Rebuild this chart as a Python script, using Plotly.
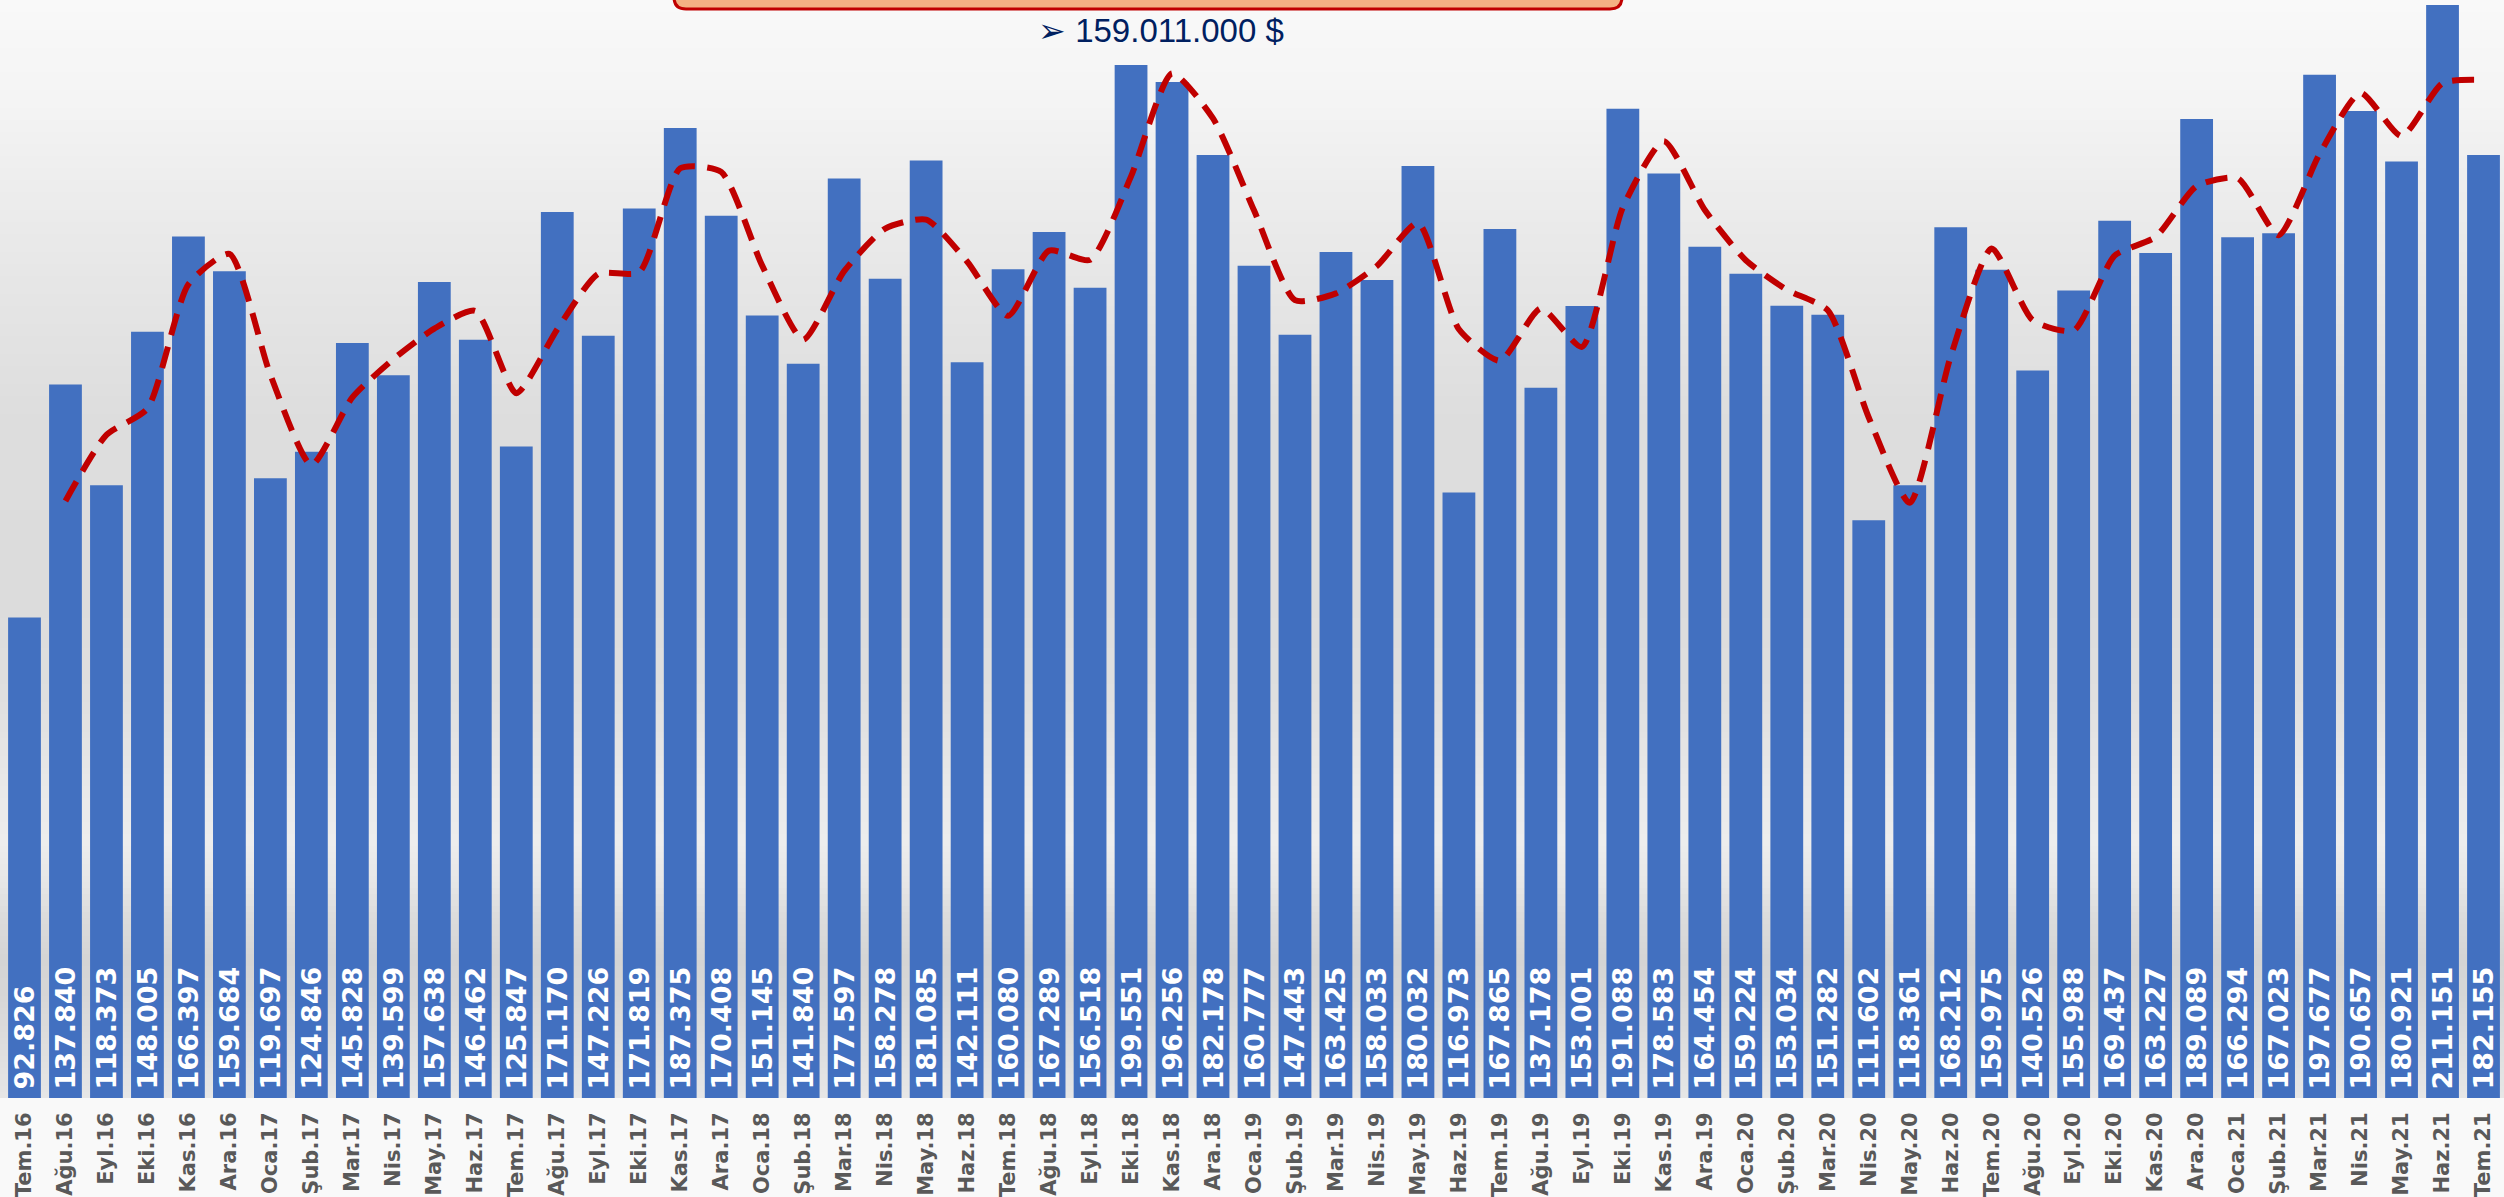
import plotly.graph_objects as go
import pandas as pd

# ---- data ----
months = ["Tem.16", "Ağu.16", "Eyl.16", "Eki.16", "Kas.16", "Ara.16",
          "Oca.17", "Şub.17", "Mar.17", "Nis.17", "May.17", "Haz.17",
          "Tem.17", "Ağu.17", "Eyl.17", "Eki.17", "Kas.17", "Ara.17",
          "Oca.18", "Şub.18", "Mar.18", "Nis.18", "May.18", "Haz.18",
          "Tem.18", "Ağu.18", "Eyl.18", "Eki.18", "Kas.18", "Ara.18",
          "Oca.19", "Şub.19", "Mar.19", "Nis.19", "May.19", "Haz.19",
          "Tem.19", "Ağu.19", "Eyl.19", "Eki.19", "Kas.19", "Ara.19",
          "Oca.20", "Şub.20", "Mar.20", "Nis.20", "May.20", "Haz.20",
          "Tem.20", "Ağu.20", "Eyl.20", "Eki.20", "Kas.20", "Ara.20",
          "Oca.21", "Şub.21", "Mar.21", "Nis.21", "May.21", "Haz.21",
          "Tem.21"]
values = [92826, 137840, 118373, 148005, 166397, 159684,
          119697, 124846, 145828, 139599, 157638, 146462,
          125847, 171170, 147226, 171819, 187375, 170408,
          151145, 141840, 177597, 158278, 181085, 142111,
          160080, 167289, 156518, 199551, 196256, 182178,
          160777, 147443, 163425, 158033, 180032, 116973,
          167865, 137178, 153001, 191088, 178583, 164454,
          159224, 153034, 151282, 111602, 118361, 168212,
          159975, 140526, 155988, 169437, 163227, 189089,
          166294, 167023, 197677, 190657, 180921, 211151,
          182155]
headline = "159.011.000 $"
ma_period = 2  # Excel-style moving-average trendline

labels = [f"{v:,}".replace(",", ".") for v in values]
trend = pd.Series(values, dtype=float).rolling(ma_period).mean()

# ---- geometry helpers (pixel -> paper) ----
W, H = 2504, 1197
ML, MR, MT, MB = 4, 0, 0, 99
PW, PH = W - ML - MR, H - MT - MB


def px_x(px):
    return (px - ML) / PW


def px_y(py):
    return (PH + MT - py) / PH


shapes = []
# background vertical gradient (stripes)
stops = [(0, 249), (100, 244), (200, 236), (300, 229), (420, 221), (600, 220),
         (700, 223), (780, 232), (840, 237), (880, 231), (920, 219), (960, 212),
         (1000, 215), (1040, 221), (1098, 231)]


def gray_at(py):
    for (y0, g0), (y1, g1) in zip(stops[:-1], stops[1:]):
        if y0 <= py <= y1:
            t = (py - y0) / (y1 - y0)
            return g0 + (g1 - g0) * t
    return stops[-1][1]


step = 6
for y in range(0, 1098, step):
    g = int(round(gray_at(y + step / 2)))
    shapes.append(dict(type="rect", xref="paper", yref="paper", layer="below",
                       x0=px_x(0), x1=px_x(W), y0=px_y(min(y + step + 1, 1098)), y1=px_y(y),
                       fillcolor=f"rgb({g},{g},{g})", line=dict(width=0)))

# rounded orange banner at top (cut off by the page edge)
bx0, bx1, byb, byt, r = px_x(674), px_x(1622), px_y(9), px_y(-40), 12
rx, ry = r / PW, r / PH
path = (f"M {bx0},{byt} L {bx0},{byb + ry} Q {bx0},{byb} {bx0 + rx},{byb} "
        f"L {bx1 - rx},{byb} Q {bx1},{byb} {bx1},{byb + ry} L {bx1},{byt} Z")
shapes.append(dict(type="path", path=path, xref="paper", yref="paper", layer="above",
                   fillcolor="#F4B183", line=dict(color="#C00000", width=3)))

fig = go.Figure()
fig.add_trace(go.Bar(
    x=months, y=values,
    marker=dict(color="#4270C0", line=dict(width=0)),
    text=["\u2009" + s for s in labels],
    textposition="inside", insidetextanchor="start", textangle=-90,
    textfont=dict(family="DejaVu Sans", size=27, color="white", weight="bold"),
    cliponaxis=False, hoverinfo="skip",
))
fig.add_trace(go.Scatter(
    x=months, y=trend, mode="lines",
    line=dict(color="#C00000", width=6, dash="22px,12px", shape="spline", smoothing=0.6),
    hoverinfo="skip", connectgaps=False,
))

fig.update_layout(
    width=W, height=H,
    margin=dict(l=ML, r=MR, t=MT, b=MB),
    paper_bgcolor="#f9f9f9", plot_bgcolor="rgba(0,0,0,0)",
    showlegend=False, bargap=0.2,
    uniformtext=dict(minsize=27, mode="show"),
    shapes=shapes,
    xaxis=dict(type="category", range=[-0.5, len(months) - 0.5], tickangle=-90,
               tickfont=dict(family="DejaVu Sans", size=21, color="#595959", weight="bold"),
               ticks="outside", ticklen=5, tickcolor="rgba(0,0,0,0)",
               showgrid=False, showline=False, zeroline=False, fixedrange=True),
    yaxis=dict(range=[0, 212100], visible=False, showgrid=False, zeroline=False),
    annotations=[dict(xref="paper", yref="paper", x=px_x(1161), y=px_y(30),
                      text="➢ " + headline, showarrow=False,
                      xanchor="center", yanchor="middle",
                      font=dict(family="Liberation Sans, Arial", size=33, color="#002060"))],
)

fig.write_html("out.html", config={"displayModeBar": False},
               post_script="document.body.style.margin='0';document.body.style.overflow='hidden';")
